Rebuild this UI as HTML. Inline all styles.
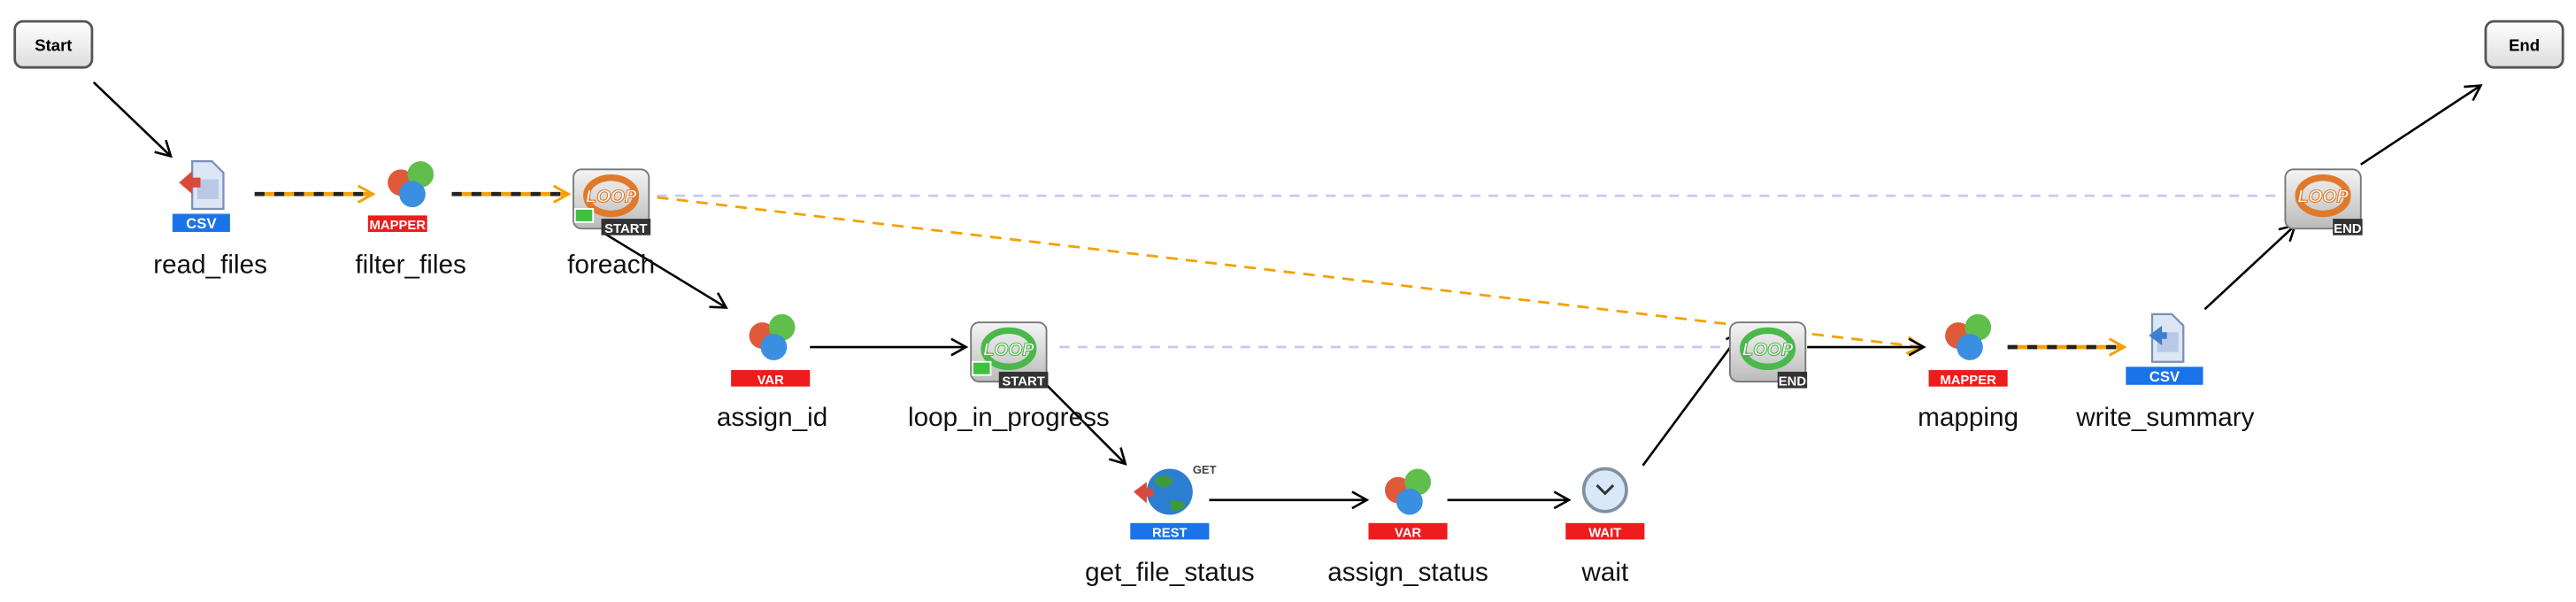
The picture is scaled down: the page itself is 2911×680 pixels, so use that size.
<!DOCTYPE html>
<html><head><meta charset="utf-8"><style>
html,body{margin:0;padding:0;background:#fff;}
svg{display:block;}
text{font-family:"Liberation Sans",sans-serif;}
</style></head><body>
<svg width="2911" height="680" viewBox="0 0 1568 366" preserveAspectRatio="none" xmlns="http://www.w3.org/2000/svg">
<defs>
<marker id="ab" markerWidth="12" markerHeight="12" refX="10" refY="6" orient="auto" markerUnits="userSpaceOnUse"><path d="M1,1 L10,6 L1,11" fill="none" stroke="#000" stroke-width="1.4"/></marker>
<marker id="ao" markerWidth="12" markerHeight="12" refX="10" refY="6" orient="auto" markerUnits="userSpaceOnUse"><path d="M1,1 L10,6 L1,11" fill="none" stroke="#f5a000" stroke-width="1.6"/></marker>
<linearGradient id="btn" x1="0" y1="0" x2="0" y2="1"><stop offset="0" stop-color="#fff"/><stop offset="1" stop-color="#ddd"/></linearGradient>
<linearGradient id="lp" x1="0" y1="0" x2="0" y2="1"><stop offset="0" stop-color="#f4f4f4"/><stop offset="1" stop-color="#bbb"/></linearGradient>
</defs>

<!-- Start / End -->
<rect x="9" y="13" width="47" height="28" rx="5" fill="url(#btn)" stroke="#555" stroke-width="1.5"/>
<text x="32.5" y="31" font-size="10" font-weight="bold" text-anchor="middle">Start</text>
<rect x="1513" y="13" width="47" height="28" rx="5" fill="url(#btn)" stroke="#555" stroke-width="1.5"/>
<text x="1536.5" y="31" font-size="10" font-weight="bold" text-anchor="middle">End</text>

<!-- dashed lavender -->
<line x1="400" y1="119" x2="1390" y2="119" stroke="#c8c8f4" stroke-width="1.5" stroke-dasharray="6,5"/>
<line x1="645" y1="211" x2="1052" y2="211" stroke="#c8c8f4" stroke-width="1.5" stroke-dasharray="6,5"/>
<!-- orange dashed diagonal -->
<line x1="400" y1="120" x2="1170" y2="211" stroke="#f5a000" stroke-width="1.5" stroke-dasharray="7,5" marker-end="url(#ao)"/>

<!-- black/orange data links -->
<g>
<line x1="155" y1="118" x2="227" y2="118" stroke="#f5a000" stroke-width="2.5" marker-end="url(#ao)"/>
<line x1="155" y1="118" x2="222" y2="118" stroke="#222" stroke-width="2.5" stroke-dasharray="6,6"/>
<line x1="275" y1="118" x2="346" y2="118" stroke="#f5a000" stroke-width="2.5" marker-end="url(#ao)"/>
<line x1="275" y1="118" x2="341" y2="118" stroke="#222" stroke-width="2.5" stroke-dasharray="6,6"/>
<line x1="1222" y1="211" x2="1293" y2="211" stroke="#f5a000" stroke-width="2.5" marker-end="url(#ao)"/>
<line x1="1222" y1="211" x2="1288" y2="211" stroke="#222" stroke-width="2.5" stroke-dasharray="6,6"/>
</g>

<!-- black arrows -->
<g stroke="#000" stroke-width="1.4" fill="none" marker-end="url(#ab)">
<line x1="57" y1="50" x2="104" y2="95"/>
<line x1="368" y1="142" x2="442" y2="187"/>
<line x1="493" y1="211" x2="588" y2="211"/>
<line x1="637" y1="234" x2="685" y2="282"/>
<line x1="736" y1="304" x2="832" y2="304"/>
<line x1="881" y1="304" x2="955" y2="304"/>
<line x1="1000" y1="283" x2="1060" y2="202"/>
<line x1="1100" y1="211" x2="1171" y2="211"/>
<line x1="1342" y1="188" x2="1397" y2="137"/>
<line x1="1437" y1="100" x2="1510" y2="52"/>
</g>

<!-- CSV read -->
<g transform="translate(125,113)">
<path d="M-8,-15 h12 l7,7 v22 h-19 z" fill="#dde6f5" stroke="#7a8fb8" stroke-width="1.2"/>
<rect x="-5" y="-4" width="13" height="12" fill="#b8c8e6"/>
<path d="M-16,-2 l8,-7 v4 h5 v6 h-5 v4 z" fill="#d94a3c"/>
</g>
<rect x="105" y="130" width="35" height="11" fill="#1a73e8"/>
<text x="122.5" y="139" font-size="9" fill="#fff" text-anchor="middle" font-weight="bold">CSV</text>

<!-- write_summary -->
<g transform="translate(1318,206)">
<path d="M-8,-15 h12 l7,7 v22 h-19 z" fill="#dde6f5" stroke="#7a8fb8" stroke-width="1.2"/>
<rect x="-5" y="-4" width="13" height="12" fill="#b8c8e6"/>
<path d="M-2,-8 l-8,6 l8,6 v-4 h3 v-4 h-3 z" fill="#3d7fd0"/>
</g>
<rect x="1294" y="223" width="47" height="11" fill="#1a73e8"/>
<text x="1317.5" y="232" font-size="9" fill="#fff" text-anchor="middle" font-weight="bold">CSV</text>

<!-- mapper-like icons -->
<g id="m1" transform="translate(250,113)">
<circle cx="-6" cy="-2" r="8" fill="#e05a3a"/>
<circle cx="6" cy="-7" r="8" fill="#5fbf4a"/>
<circle cx="1" cy="5" r="8" fill="#3a8fe0"/>
</g>
<rect x="224" y="131" width="36" height="10" fill="#ee1c1c"/>
<text x="242" y="139.5" font-size="8" fill="#fff" text-anchor="middle" font-weight="bold">MAPPER</text>

<g transform="translate(470,206)">
<circle cx="-6" cy="-2" r="8" fill="#e05a3a"/>
<circle cx="6" cy="-7" r="8" fill="#5fbf4a"/>
<circle cx="1" cy="5" r="8" fill="#3a8fe0"/>
</g>
<rect x="445" y="225" width="48" height="10" fill="#ee1c1c"/>
<text x="469" y="233.5" font-size="8" fill="#fff" text-anchor="middle" font-weight="bold">VAR</text>

<g transform="translate(857,300)">
<circle cx="-6" cy="-2" r="8" fill="#e05a3a"/>
<circle cx="6" cy="-7" r="8" fill="#5fbf4a"/>
<circle cx="1" cy="5" r="8" fill="#3a8fe0"/>
</g>
<rect x="833" y="318" width="48" height="10" fill="#ee1c1c"/>
<text x="857" y="326.5" font-size="8" fill="#fff" text-anchor="middle" font-weight="bold">VAR</text>

<g transform="translate(1198,206)">
<circle cx="-6" cy="-2" r="8" fill="#e05a3a"/>
<circle cx="6" cy="-7" r="8" fill="#5fbf4a"/>
<circle cx="1" cy="5" r="8" fill="#3a8fe0"/>
</g>
<rect x="1174" y="225" width="48" height="10" fill="#ee1c1c"/>
<text x="1198" y="233.5" font-size="8" fill="#fff" text-anchor="middle" font-weight="bold">MAPPER</text>

<!-- REST -->
<circle cx="712" cy="299" r="14" fill="#2c7fd0"/>
<path d="M702,292 q6,-6 12,0 q-2,6 -8,4 z M712,305 q6,-2 10,2 q-4,5 -9,3 z" fill="#3c9a3c"/>
<path d="M690,299 l8,-6 v4 h4 v5 h-4 v4 z" fill="#d94a3c"/>
<text x="726" y="288" font-size="7" font-weight="bold" fill="#444">GET</text>
<rect x="688" y="318" width="48" height="10" fill="#1a73e8"/>
<text x="712" y="326.5" font-size="8" fill="#fff" text-anchor="middle" font-weight="bold">REST</text>

<!-- WAIT -->
<circle cx="977" cy="298" r="13" fill="#d8e8f8" stroke="#8090a0" stroke-width="2"/>
<path d="M972,295 l5,5 l5,-5" fill="none" stroke="#333" stroke-width="1.6"/>
<rect x="953" y="318" width="48" height="10" fill="#ee1c1c"/>
<text x="977" y="326.5" font-size="8" fill="#fff" text-anchor="middle" font-weight="bold">WAIT</text>

<!-- Loop icons -->
<g transform="translate(349,103)">
<rect x="0" y="0" width="46" height="36" rx="5" fill="url(#lp)" stroke="#777"/>
<ellipse cx="23" cy="16" rx="15" ry="11" fill="none" stroke="#e07a2a" stroke-width="4"/>
<text x="23" y="20" font-size="11" font-weight="bold" font-style="italic" fill="#fff" stroke="#e07a2a" stroke-width="0.6" text-anchor="middle">LOOP</text>
<rect x="1" y="24" width="11" height="8" fill="#3ec23e" stroke="#fff"/>
<rect x="17" y="30" width="30" height="10" fill="#333"/>
<text x="32" y="38.5" font-size="8" fill="#fff" text-anchor="middle" font-weight="bold">START</text>
</g>
<g transform="translate(591,196)">
<rect x="0" y="0" width="46" height="36" rx="5" fill="url(#lp)" stroke="#777"/>
<ellipse cx="23" cy="16" rx="15" ry="11" fill="none" stroke="#4bb84b" stroke-width="4"/>
<text x="23" y="20" font-size="11" font-weight="bold" font-style="italic" fill="#fff" stroke="#4bb84b" stroke-width="0.6" text-anchor="middle">LOOP</text>
<rect x="1" y="24" width="11" height="8" fill="#3ec23e" stroke="#fff"/>
<rect x="17" y="30" width="30" height="10" fill="#333"/>
<text x="32" y="38.5" font-size="8" fill="#fff" text-anchor="middle" font-weight="bold">START</text>
</g>
<g transform="translate(1053,196)">
<rect x="0" y="0" width="46" height="36" rx="5" fill="url(#lp)" stroke="#777"/>
<ellipse cx="23" cy="16" rx="15" ry="11" fill="none" stroke="#4bb84b" stroke-width="4"/>
<text x="23" y="20" font-size="11" font-weight="bold" font-style="italic" fill="#fff" stroke="#4bb84b" stroke-width="0.6" text-anchor="middle">LOOP</text>
<rect x="29" y="30" width="18" height="10" fill="#333"/>
<text x="38" y="38.5" font-size="8" fill="#fff" text-anchor="middle" font-weight="bold">END</text>
</g>
<g transform="translate(1391,103)">
<rect x="0" y="0" width="46" height="36" rx="5" fill="url(#lp)" stroke="#777"/>
<ellipse cx="23" cy="16" rx="15" ry="11" fill="none" stroke="#e07a2a" stroke-width="4"/>
<text x="23" y="20" font-size="11" font-weight="bold" font-style="italic" fill="#fff" stroke="#e07a2a" stroke-width="0.6" text-anchor="middle">LOOP</text>
<rect x="29" y="30" width="18" height="10" fill="#333"/>
<text x="38" y="38.5" font-size="8" fill="#fff" text-anchor="middle" font-weight="bold">END</text>
</g>

<!-- labels -->
<g font-size="16" text-anchor="middle" fill="#111">
<text x="128" y="166">read_files</text>
<text x="250" y="166">filter_files</text>
<text x="372" y="166">foreach</text>
<text x="470" y="259">assign_id</text>
<text x="614" y="259">loop_in_progress</text>
<text x="712" y="353">get_file_status</text>
<text x="857" y="353">assign_status</text>
<text x="977" y="353">wait</text>
<text x="1198" y="259">mapping</text>
<text x="1318" y="259">write_summary</text>
</g>
</svg>
</body></html>
